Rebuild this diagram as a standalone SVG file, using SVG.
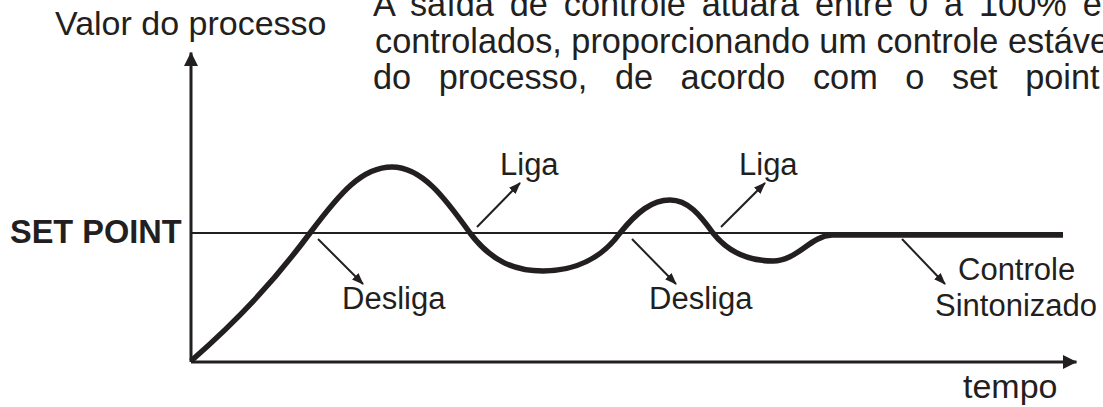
<svg xmlns="http://www.w3.org/2000/svg" width="1103" height="407" viewBox="0 0 1103 407">
<style>
text{font-family:"Liberation Sans",Arial,sans-serif;fill:#231f20}
.para{font-size:34.3px}
.lbl{font-size:31px}
.ax{stroke:#231f20;stroke-width:3;fill:none}
.sp{stroke:#231f20;stroke-width:2;fill:none}
.curve{stroke:#231f20;stroke-width:5.5;fill:none;stroke-linejoin:round}
.ptr{stroke:#231f20;stroke-width:2;fill:none}
</style>
<defs>
<marker id="ah" markerUnits="userSpaceOnUse" markerWidth="12" markerHeight="12" viewBox="0 0 12 12" refX="11" refY="6" orient="auto">
<path d="M0,1.5 L12,6 L0,10.5 Z" fill="#231f20"/>
</marker>
<marker id="axh" markerUnits="userSpaceOnUse" markerWidth="14" markerHeight="14" viewBox="0 0 14 14" refX="13.5" refY="7" orient="auto">
<path d="M0,0 L14,7 L0,14 Z" fill="#231f20"/>
</marker>
</defs>
<rect width="1103" height="407" fill="#ffffff"/>
<g id="axes">
<line class="ax" x1="191" y1="362" x2="191" y2="52.5" marker-end="url(#axh)"/>
<line class="ax" x1="191" y1="362" x2="1076.5" y2="362" marker-end="url(#axh)"/>
<line class="sp" x1="191" y1="233" x2="1063" y2="233"/>
</g>
<g id="curve">
<path class="curve" d="M191,361 C240,318 275,280 310,233 C340,193 362,167 392,167 C422,167 445,198 470,233 C492,262 515,271 543,271 C575,271 602,258 620,233 C637,212 652,200 670,200 C688,200 700,215 713,233 C728,252 748,261 773,261 C797,261 810,236 832,235 L1063,235"/>
</g>
<g id="connectors">
<line class="ptr" x1="477" y1="227" x2="520" y2="183" marker-end="url(#ah)"/>
<line class="ptr" x1="318" y1="239" x2="363" y2="284" marker-end="url(#ah)"/>
<line class="ptr" x1="721" y1="227" x2="765" y2="183" marker-end="url(#ah)"/>
<line class="ptr" x1="632" y1="239" x2="676" y2="284" marker-end="url(#ah)"/>
<line class="ptr" x1="902" y1="239" x2="945" y2="284" marker-end="url(#ah)"/>
</g>
<g id="title">
<text x="55" y="35" style="font-size:34px">Valor do processo</text>
</g>
<g id="paragraph">
<text class="para" x="373" y="16" word-spacing="6.4">A saída de controle atuará entre 0 a 100% e</text>
<text class="para" x="375" y="53">controlados, proporcionando um controle estáve</text>
<text class="para" x="373" y="89" word-spacing="18">do processo, de acordo com o set point</text>
</g>
<g id="setpoint">
<text x="10" y="243" style="font-size:32.5px;font-weight:bold">SET POINT</text>
</g>
<g id="liga1"><text class="lbl" x="500" y="175">Liga</text></g>
<g id="liga2"><text class="lbl" x="739" y="175">Liga</text></g>
<g id="desliga1"><text class="lbl" x="342" y="309">Desliga</text></g>
<g id="desliga2"><text class="lbl" x="649" y="309">Desliga</text></g>
<g id="controle"><text class="lbl" x="958" y="280">Controle</text><text class="lbl" x="935" y="316">Sintonizado</text></g>
<g id="tempo"><text x="963" y="398" style="font-size:34px">tempo</text></g>
</svg>
